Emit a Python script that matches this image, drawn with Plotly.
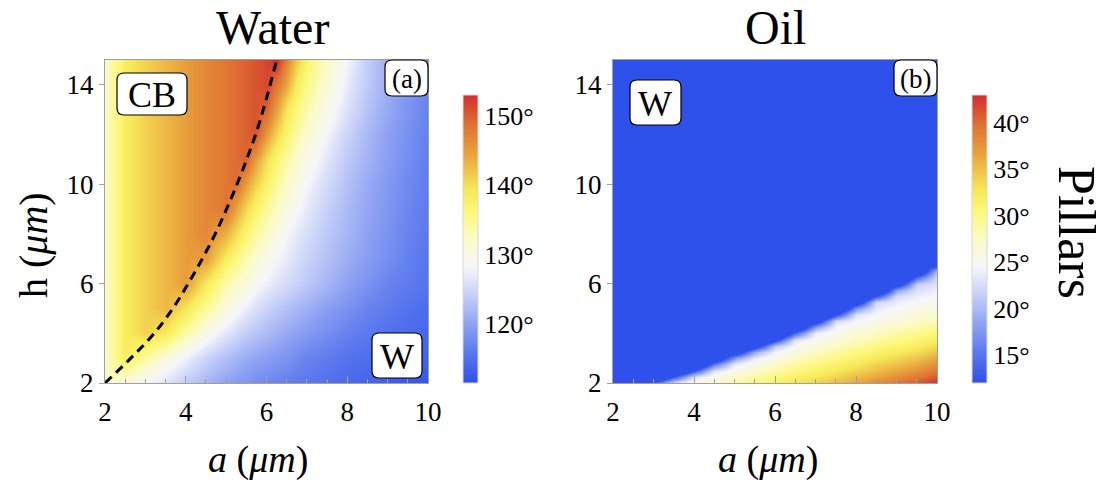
import plotly.graph_objects as go

# ---------------- data ----------------
# Water panel: contact angle (deg) on a grid of pillar spacing a (um) x height h (um)
a_water = [2, 2.5, 3, 3.5, 4, 4.5, 5, 5.25, 5.5, 5.75, 6, 6.25, 6.5, 6.75, 7, 7.5, 8, 8.5, 9, 9.5, 10]
h_water = [2, 3, 4, 5, 6, 7, 8, 9, 10, 11, 12, 13, 14, 15]
water_angle = [
    [133, 130.5, 128, 126, 123.8, 121.8, 120, 119.3, 118.7, 118, 117.4, 117, 116.5, 116.1, 115.8, 115, 114.3, 113.7, 113, 112.5, 112],
    [132, 138.5, 134.5, 130.5, 127.4, 124.5, 122.6, 121.7, 120.8, 120.2, 119.6, 119, 118.5, 117.7, 117, 116.2, 115.3, 114.8, 114.3, 113.9, 113.5],
    [132, 138.5, 141, 139, 134, 129.7, 126.5, 125.2, 124, 123.1, 122.2, 121.4, 120.6, 119.9, 119.2, 118, 116.8, 115.9, 115, 114.5, 114],
    [132, 138.5, 141, 143, 139.5, 134.8, 130.7, 128.9, 127.2, 125.8, 124.5, 123.6, 122.8, 122, 121.2, 119.7, 118.4, 117, 116.1, 115.2, 114.6],
    [132, 138.5, 141, 143, 145, 139, 133.6, 132, 130.5, 128.8, 127.3, 126.2, 125.3, 124.4, 123.5, 121.7, 120, 118.5, 117, 116.1, 115.3],
    [132, 138.5, 141, 143, 145, 145, 138.5, 136, 133.5, 131.4, 129.5, 128, 126.7, 125.6, 124.5, 122.7, 121, 119.5, 118, 116.6, 115.6],
    [132, 138.5, 141, 143, 145, 146.8, 143.5, 140.2, 137, 134.4, 132, 130, 128, 126.7, 125.5, 123.5, 121.7, 120, 118.4, 116.9, 115.8],
    [132, 138.5, 141, 143, 145, 146.8, 148.3, 144.5, 140.5, 137.4, 134.6, 132.2, 130, 128.3, 126.7, 124.2, 122.2, 120.3, 118.8, 117.2, 116],
    [132, 138.5, 141, 143, 145, 146.8, 148.3, 149.1, 145, 141, 137.6, 134.7, 132.2, 130, 128, 125.2, 122.8, 120.8, 119, 117.5, 116.2],
    [132, 138.5, 141, 143, 145, 146.8, 148.3, 149.1, 149.8, 144.9, 140, 136.8, 134.2, 131.8, 129.8, 126.5, 123.6, 121.5, 119.6, 117.9, 116.4],
    [132, 138.5, 141, 143, 145, 146.8, 148.3, 149.1, 149.8, 150.6, 145, 140.5, 137, 134, 131.7, 127.7, 124.6, 122, 119.8, 118.2, 116.6],
    [132, 138.5, 141, 143, 145, 146.8, 148.3, 149.1, 149.8, 150.6, 149.5, 144.5, 139, 136, 133.5, 129.5, 126, 123, 120.5, 118.6, 116.8],
    [132, 138.5, 141, 143, 145, 146.8, 148.3, 149.1, 149.8, 150.6, 151.5, 148, 144, 138.5, 135.7, 131, 127, 123.7, 121, 118.8, 117],
    [132, 138.5, 141, 143, 145, 146.8, 148.3, 149.1, 149.8, 150.6, 151.5, 153, 147, 141.4, 137, 132, 128, 124, 121, 118.7, 117],
]

# CB / W transition (dashed line)
line_a = [2.0, 2.64, 3.22, 3.68, 4.06, 4.41, 4.73, 5.01, 5.27, 5.51, 5.73, 5.92, 6.09, 6.25]
line_h = [2, 3, 4, 5, 6, 7, 8, 9, 10, 11, 12, 13, 14, 15]

# Oil panel (blue W region = at or below the scale minimum)
a_oil = [2, 2.5, 3, 3.5, 4, 4.5, 5, 5.5, 6, 6.5, 7, 7.5, 8, 8.5, 9, 9.5, 10]
h_oil = [2, 2.25, 2.5, 2.75, 3, 3.25, 3.5, 3.75, 4, 4.25, 4.5, 4.75, 5, 5.25, 5.5, 5.75, 6, 6.25, 6.5, 6.75, 7, 15]
oil_angle = [
    [12, 2.6, 13.4, 23, 25.5, 27.5, 29, 30.5, 32, 33, 34, 35.2, 36.5, 38, 39.5, 41, 43],
    [12, 12, 3.4, 13, 23, 25.5, 27.3, 29, 30.5, 31.8, 32.8, 34, 35.2, 36.6, 38, 39.3, 41.2],
    [12, 12, 12, 3, 13, 23, 25.5, 27.3, 29, 30.4, 31.5, 32.7, 33.9, 35.2, 36.5, 37.7, 39.5],
    [12, 12, 12, 12, 3, 15, 23.5, 25.5, 27.3, 29, 30.2, 31.4, 32.6, 33.9, 35, 36.2, 38],
    [12, 12, 12, 12, 12, 5, 17.8, 23.5, 25.6, 27.6, 29, 30.2, 31.4, 32.6, 33.7, 34.8, 36.5],
    [12, 12, 12, 12, 12, 12, 7.8, 19, 24, 26.2, 27.8, 29, 30.2, 31.4, 32.4, 33.4, 35],
    [12, 12, 12, 12, 12, 12, 0, 9, 21, 24.8, 26.5, 27.8, 29, 30.2, 31.2, 32.1, 33.5],
    [12, 12, 12, 12, 12, 12, 12, 0, 11, 23, 25.2, 26.6, 27.8, 29, 30, 30.9, 32.2],
    [12, 12, 12, 12, 12, 12, 12, 12, 1, 13.8, 23.8, 25.4, 26.6, 27.8, 28.8, 29.7, 31],
    [12, 12, 12, 12, 12, 12, 12, 12, 12, 3.8, 18.2, 24.2, 25.4, 26.7, 27.7, 28.6, 29.7],
    [12, 12, 12, 12, 12, 12, 12, 12, 12, 12, 8.2, 22.5, 24.2, 25.6, 26.6, 27.5, 28.5],
    [12, 12, 12, 12, 12, 12, 12, 12, 12, 12, 0, 12.6, 23, 24.5, 25.6, 26.5, 27.2],
    [12, 12, 12, 12, 12, 12, 12, 12, 12, 12, 12, 2.6, 17, 23.3, 24.6, 25.5, 26],
    [12, 12, 12, 12, 12, 12, 12, 12, 12, 12, 12, 12, 7, 22, 23.6, 24.6, 25.2],
    [12, 12, 12, 12, 12, 12, 12, 12, 12, 12, 12, 12, 0, 12.2, 22.5, 23.7, 24.5],
    [12, 12, 12, 12, 12, 12, 12, 12, 12, 12, 12, 12, 12, 2.2, 18.2, 22.8, 23.7],
    [12, 12, 12, 12, 12, 12, 12, 12, 12, 12, 12, 12, 12, 12, 8.2, 21.5, 23],
    [12, 12, 12, 12, 12, 12, 12, 12, 12, 12, 12, 12, 12, 12, 0, 13.8, 22],
    [12, 12, 12, 12, 12, 12, 12, 12, 12, 12, 12, 12, 12, 12, 12, 3.8, 20.2],
    [12, 12, 12, 12, 12, 12, 12, 12, 12, 12, 12, 12, 12, 12, 12, 12, 10.2],
    [12, 12, 12, 12, 12, 12, 12, 12, 12, 12, 12, 12, 12, 12, 12, 12, 0],
    [12, 12, 12, 12, 12, 12, 12, 12, 12, 12, 12, 12, 12, 12, 12, 12, 12],
]

x_ticks = [2, 4, 6, 8, 10]
y_ticks = [2, 6, 10, 14]
water_cbar_ticks = [120, 130, 140, 150]
oil_cbar_ticks = [15, 20, 25, 30, 35, 40]

# ---------------- styling ----------------
W, H = 1107, 482
FONT = "Liberation Serif"
GREY = "#a0a0a0"

def px(x):
    return x / W

def py(y):
    return 1 - y / H

CS = [
    [0.00, "rgb(46,80,235)"],
    [0.10, "rgb(88,118,238)"],
    [0.20, "rgb(140,160,242)"],
    [0.30, "rgb(195,205,248)"],
    [0.40, "rgb(246,246,250)"],
    [0.50, "rgb(252,250,200)"],
    [0.60, "rgb(252,248,120)"],
    [0.67, "rgb(247,232,88)"],
    [0.80, "rgb(232,160,60)"],
    [0.90, "rgb(222,112,50)"],
    [1.00, "rgb(210,45,45)"],
]

TICKFONT = dict(family=FONT, size=27, color="black")

def cbar(x_left, tickvals):
    return dict(
        x=px(x_left), xanchor="left", xpad=0,
        y=py(383), yanchor="bottom", ypad=0,
        len=(383 - 95) / H, lenmode="fraction",
        thickness=15, thicknessmode="pixels",
        tickmode="array", tickvals=tickvals,
        ticktext=[f"{v}°" for v in tickvals], ticks="",
        tickfont=dict(family=FONT, size=26, color="black"),
        outlinewidth=1, outlinecolor="#d8d8d8",
    )

fig = go.Figure()
fig.add_trace(go.Heatmap(
    x=a_water, y=h_water, z=water_angle, zsmooth="best",
    colorscale=CS, zmin=111.5, zmax=153,
    xaxis="x", yaxis="y", colorbar=cbar(463, water_cbar_ticks),
    hoverinfo="skip",
))
fig.add_trace(go.Scatter(
    x=line_a, y=line_h, mode="lines",
    line=dict(color="black", width=3, dash="9px,6px", shape="spline"),
    xaxis="x", yaxis="y", showlegend=False, hoverinfo="skip",
))
fig.add_trace(go.Heatmap(
    x=a_oil, y=h_oil, z=oil_angle, zsmooth="best",
    colorscale=CS, zmin=12, zmax=43,
    xaxis="x2", yaxis="y2", colorbar=cbar(972, oil_cbar_ticks),
    hoverinfo="skip",
))

def xax(dom, anchor):
    return dict(
        domain=dom, range=[2, 10], anchor=anchor,
        tickmode="array", tickvals=x_ticks, ticktext=[str(v) for v in x_ticks],
        ticks="inside", ticklen=7, tickcolor=GREY, tickwidth=1,
        minor=dict(dtick=0.5, ticks="inside", ticklen=4, tickcolor=GREY),
        showline=True, linecolor=GREY, linewidth=1, mirror=True,
        showgrid=False, zeroline=False, ticklabelstandoff=5,
        tickfont=TICKFONT,
    )

def yax(anchor):
    return dict(
        domain=[py(383), py(60)], range=[2, 15], anchor=anchor,
        tickmode="array", tickvals=y_ticks, ticktext=[str(v) for v in y_ticks],
        ticks="outside", ticklen=5, tickcolor=GREY,
        showline=True, linecolor=GREY, linewidth=1, mirror=True,
        showgrid=False, zeroline=False,
        tickfont=TICKFONT,
    )

fig.update_layout(
    width=W, height=H, margin=dict(l=0, r=0, t=0, b=0, autoexpand=False),
    font=dict(family=FONT, color="black"),
    paper_bgcolor="white", plot_bgcolor="white", showlegend=False,
    xaxis=xax([px(105), px(428)], "y"),
    yaxis=yax("x"),
    xaxis2=xax([px(613), px(937)], "y2"),
    yaxis2=yax("x2"),
)

def ann(text, x, y, size, angle=0):
    return dict(text=text, x=px(x), y=py(y), xref="paper", yref="paper",
                showarrow=False, textangle=angle, xanchor="center", yanchor="middle",
                font=dict(family=FONT, size=size, color="black"))

annotations = [
    ann("Water", 272, 27, 48),
    ann("Oil", 775, 27, 48),
    ann("h (<i>μm</i>)", 33, 245, 40, -90),
    ann("<i>a</i> (<i>μm</i>)", 258, 459, 38),
    ann("<i>a</i> (<i>μm</i>)", 768, 459, 38),
    ann("Pillars", 1077, 232, 52, 90),
]

def rounded_box(x0, y0, x1, y1, r=7):
    rx, ry = r / W, r / H
    X0, X1 = px(x0), px(x1)
    Y0, Y1 = py(y1), py(y0)  # bottom, top in paper coords
    path = (f"M {X0+rx},{Y0} L {X1-rx},{Y0} Q {X1},{Y0} {X1},{Y0+ry} "
            f"L {X1},{Y1-ry} Q {X1},{Y1} {X1-rx},{Y1} "
            f"L {X0+rx},{Y1} Q {X0},{Y1} {X0},{Y1-ry} "
            f"L {X0},{Y0+ry} Q {X0},{Y0} {X0+rx},{Y0} Z")
    return dict(type="path", path=path, xref="paper", yref="paper",
                fillcolor="white", line=dict(color="black", width=1.2), layer="above")

boxes = [
    ("CB", 117, 73, 187, 115, 36),
    ("(a)", 385, 60, 428, 96, 27),
    ("W", 372, 333, 422, 378, 36),
    ("W", 630, 80, 681, 125, 36),
    ("(b)", 894, 60, 937, 96, 27),
]
shapes = []
for text, x0, y0, x1, y1, fs in boxes:
    shapes.append(rounded_box(x0, y0, x1, y1))
    annotations.append(ann(text, (x0 + x1) / 2, (y0 + y1) / 2 + 1, fs))

fig.update_layout(annotations=annotations, shapes=shapes)
fig.write_html("out.html")
